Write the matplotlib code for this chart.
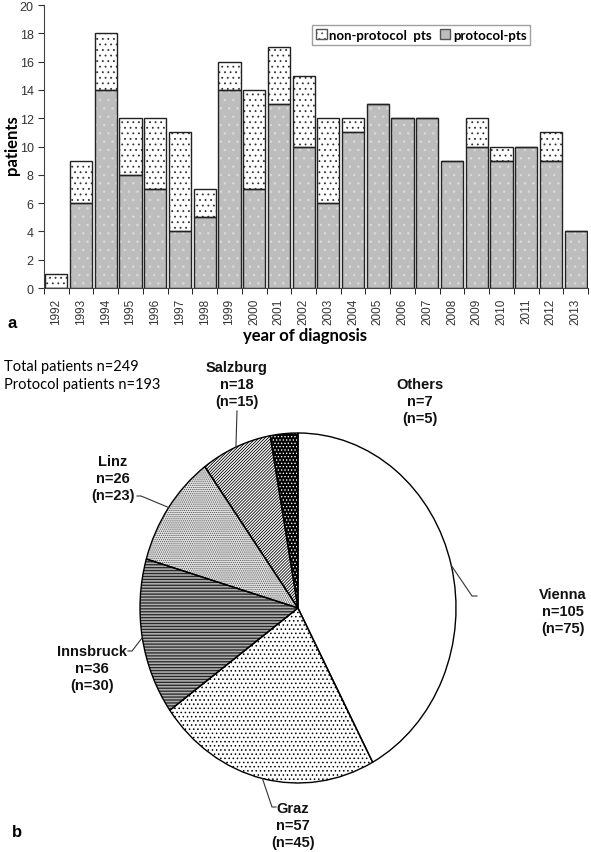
import numpy as np
import matplotlib
matplotlib.use('Agg')
import matplotlib.pyplot as plt
from matplotlib.lines import Line2D

# ── data ─────────────────────────────────────────────────────────
years = [str(y) for y in range(1992, 2014)]
protocol_pts = [0, 6, 14, 8, 7, 4, 5, 14, 7, 13, 10, 6, 11, 13, 12, 12, 9, 10, 9, 10, 9, 4]
total_pts = [1, 9, 18, 12, 12, 11, 7, 16, 14, 17, 15, 12, 12, 13, 12, 12, 9, 12, 10, 10, 11, 4]
non_protocol_pts = [t - p for t, p in zip(total_pts, protocol_pts)]

centres = ['Vienna', 'Graz', 'Innsbruck', 'Linz', 'Salzburg', 'Others']
centre_total = [105, 57, 36, 26, 18, 7]
centre_protocol = [75, 45, 30, 23, 15, 5]

W, H = 591, 853
plt.rcParams['hatch.linewidth'] = 0.6


def fx(x, y):
    """pixel (from top-left) -> figure fraction"""
    return x / W, 1 - y / H


fig = plt.figure(figsize=(W / 100, H / 100), dpi=100, facecolor='white')

# ── a: stacked bars ──────────────────────────────────────────────
ax = fig.add_axes([44 / W, 1 - 289 / H, (588 - 44) / W, (289 - 6) / H])
x = np.arange(len(years))
ax.bar(x, protocol_pts, width=0.9, color='#bdbdbd', edgecolor='#d9d9d9',
       hatch='..', linewidth=0, zorder=2)
ax.bar(x, protocol_pts, width=0.9, facecolor='none', edgecolor='#222222',
       linewidth=1.0, zorder=3)
ax.bar(x, non_protocol_pts, bottom=protocol_pts, width=0.9, color='white',
       edgecolor='#333333', hatch='...', linewidth=0, zorder=2)
ax.bar(x, non_protocol_pts, bottom=protocol_pts, width=0.9, facecolor='none',
       edgecolor='#222222', linewidth=1.0, zorder=3)

ax.set_xlim(-0.5, len(years) - 0.5)
ax.set_ylim(0, 20)
ax.set_yticks(range(0, 21, 2))
ax.set_xticks(x)
ax.set_xticklabels(years, rotation=90, family='Liberation Sans', fontsize=8.5,
                   color='#333333')
ax.set_xticks(np.arange(-0.5, len(years), 1), minor=True)
ax.tick_params(axis='x', which='major', length=0, pad=7)
ax.tick_params(axis='x', which='minor', length=4, direction='out')
ax.tick_params(axis='y', length=4, direction='out', labelsize=9, colors='#333333')
for lbl in ax.get_yticklabels():
    lbl.set_family('Liberation Sans')
for s in ['top', 'right']:
    ax.spines[s].set_visible(False)
for s in ['left', 'bottom']:
    ax.spines[s].set_color('#444444')

leg_h = [plt.Rectangle((0, 0), 1, 1, facecolor='white', edgecolor='#555555', hatch='...'),
         plt.Rectangle((0, 0), 1, 1, facecolor='#bdbdbd', edgecolor='#555555')]
ax.legend(leg_h, ['non-protocol  pts', 'protocol-pts'], ncol=2,
          loc='upper left', bbox_to_anchor=fx(312, 26), bbox_transform=fig.transFigure,
          prop={'family': 'Lato', 'weight': 'bold', 'size': 9.5},
          frameon=True, fancybox=False, edgecolor='#888888', borderpad=0.3,
          handlelength=0.8, handleheight=0.8, handletextpad=0.2, columnspacing=0.6,
          borderaxespad=0)

fig.text(*fx(12, 145), 'patients', rotation=90, ha='center', va='center',
         family='Lato', weight='bold', fontsize=12)
fig.text(*fx(305, 336), 'year of diagnosis', ha='center', va='center',
         family='Lato', weight='bold', fontsize=12)
fig.text(*fx(8, 323), 'a', ha='left', va='center', family='Liberation Sans',
         weight='bold', fontsize=12)

# ── b: pie ───────────────────────────────────────────────────────
ax2 = fig.add_axes([140 / W, 1 - 784 / H, 316 / W, 350 / H])
faces = ['white', 'white', 'white', '#e4e4e4', 'white', 'black']
hatch_cols = ['white', 'black', 'black', '#555555', 'black', 'white']
hatches = ['', '....', '-----------', '........', '///////////', '.....']
wedges, _ = ax2.pie(centre_total, startangle=90, counterclock=False,
                    colors=faces, wedgeprops=dict(linewidth=0))
for w, hc, ht in zip(wedges, hatch_cols, hatches):
    w.set_edgecolor(hc)
    w.set_hatch(ht)
ax2.pie(centre_total, startangle=90, counterclock=False,
        colors=['none'] * len(centre_total),
        wedgeprops=dict(linewidth=1.0, edgecolor='black', facecolor='none'))
ax2.set_aspect('auto')
ax2.set_xlim(-1.0, 1.0)
ax2.set_ylim(-1.0, 1.0)
ax2.axis('off')

fig.text(*fx(4, 367), 'Total patients n=249', ha='left', va='center',
         family='Lato', fontsize=10.5)
fig.text(*fx(4, 385), 'Protocol patients n=193', ha='left', va='center',
         family='Lato', fontsize=10.5)
fig.text(*fx(12, 833), 'b', ha='left', va='center', family='Liberation Sans',
         weight='bold', fontsize=12)

# label centre (px) and leader path (px) for each slice
label_pos = {
    'Vienna': (563, 612),
    'Graz': (293, 826),
    'Innsbruck': (92, 669),
    'Linz': (113, 479),
    'Salzburg': (237, 385),
    'Others': (420, 402),
}
leader_pts = {
    'Vienna': [(477, 597), (472, 597)],
    'Graz': [(276, 808), (272, 808)],
    'Innsbruck': [(128, 652), (132, 652)],
    'Linz': [(137, 497), (141, 497)],
    'Salzburg': [(237, 412)],
    'Others': None,
}

to_fig = ax2.transData + fig.transFigure.inverted()
total = sum(centre_total)
cum = 0
for name, n, npr in zip(centres, centre_total, centre_protocol):
    mid = 90 - (cum + n / 2) / total * 360
    cum += n
    tx, ty = label_pos[name]
    fig.text(*fx(tx, ty), f'{name}\nn={n}\n(n={npr})', ha='center', va='center',
             family='Liberation Sans', weight='bold', fontsize=10.5,
             linespacing=1.25, color='#111111')
    pts = leader_pts[name]
    if pts:
        edge = to_fig.transform((np.cos(np.radians(mid)), np.sin(np.radians(mid))))
        xs = [fx(*p)[0] for p in pts] + [edge[0]]
        ys = [fx(*p)[1] for p in pts] + [edge[1]]
        fig.add_artist(Line2D(xs, ys, transform=fig.transFigure, color='#333333',
                              linewidth=0.8))

fig.savefig('out.png', dpi=100, facecolor='white')
